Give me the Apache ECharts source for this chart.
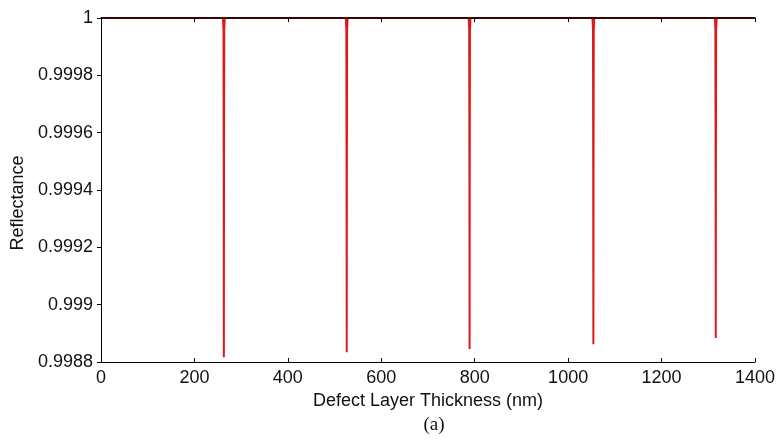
<!DOCTYPE html>
<html>
<head>
<meta charset="utf-8">
<script src="https://cdn.jsdelivr.net/npm/echarts@6/dist/echarts.min.js"></script>
<style>
html,body{margin:0;padding:0;background:#fff;}
#c{width:781px;height:442px;}
</style>
</head>
<body>
<div id="c"></div>
<script>
// Dip centres (nm) and minimum reflectance
const dipCenters = [263, 526, 789, 1054, 1316];
const dipMinima = [0.998817, 0.998834, 0.998845, 0.998862, 0.998884];
const dipShoulder = [0.99944, 0.99944, 0.99945, 0.99946, 0.99947];
const dipNear = [0.99996, 0.99996, 0.99996, 0.99996, 0.99996];
const xTicks = [0, 200, 400, 600, 800, 1000, 1200, 1400];
const yTicks = [0.9988, 0.999, 0.9992, 0.9994, 0.9996, 0.9998, 1];

const data = [[0, 1]];
dipCenters.forEach((c, i) => {
  data.push([c - 2, 1]);
  data.push([c - 0.8, dipNear[i]]);
  data.push([c - 0.3, dipShoulder[i]]);
  data.push([c, dipMinima[i]]);
  data.push([c + 0.3, dipShoulder[i]]);
  data.push([c + 0.8, dipNear[i]]);
  data.push([c + 2, 1]);
});
data.push([1400, 1]);

const font = 'Liberation Sans, Arial, sans-serif';
const chart = echarts.init(document.getElementById('c'));
chart.setOption({
  animation: false,
  grid: {left: 101, right: 26, top: 18, bottom: 80, containLabel: false},
  xAxis: [{
    type: 'value', min: xTicks[0], max: xTicks[xTicks.length - 1], interval: 200, position: 'bottom', z: 5,
    axisLine: {show: true, lineStyle: {color: '#000', width: 1}},
    axisTick: {show: true, inside: true, length: 4, lineStyle: {color: '#000'}},
    axisLabel: {color: '#111', fontSize: 18, fontFamily: font, margin: 7,
      formatter: v => String(v)},
    splitLine: {show: false},
    name: 'Defect Layer Thickness (nm)', nameLocation: 'middle', nameGap: 24,
    nameTextStyle: {color: '#111', fontSize: 18, fontFamily: font}
  }, {
    type: 'value', min: 0, max: 1400, interval: 200, position: 'top', z: 5,
    axisLine: {show: true, lineStyle: {color: '#000', width: 1.5}},
    axisTick: {show: true, inside: true, length: 4, lineStyle: {color: '#000'}},
    axisLabel: {show: false}, splitLine: {show: false}
  }],
  yAxis: [{
    type: 'value', min: yTicks[0], max: yTicks[yTicks.length - 1], interval: 0.0002, position: 'left', z: 5,
    axisLine: {show: true, lineStyle: {color: '#000', width: 1}},
    axisTick: {show: true, inside: false, length: 4, lineStyle: {color: '#000'}},
    axisLabel: {color: '#111', fontSize: 18, fontFamily: font, margin: 8,
      formatter: v => String(+v.toFixed(4))},
    splitLine: {show: false}
  }, {
    type: 'value', min: 0.9988, max: 1, interval: 0.0002, position: 'right', z: 5,
    axisLine: {show: true, lineStyle: {color: '#000', width: 1}},
    axisTick: {show: true, inside: true, length: 4, lineStyle: {color: '#000'}},
    axisLabel: {show: false}, splitLine: {show: false}
  }],
  graphic: [{
    type: 'text', x: 18, y: 203, rotation: Math.PI / 2,
    style: {text: 'Reflectance', fontSize: 18, fontFamily: font, fill: '#111',
      align: 'center', verticalAlign: 'middle'}
  }, {
    type: 'text', x: 434, y: 425,
    style: {text: '(a)', fontSize: 19, fontFamily: 'Liberation Serif, Times New Roman, serif', fill: '#111',
      align: 'center', verticalAlign: 'middle'}
  }],
  series: [{
    type: 'line', data: data, xAxisIndex: 0, yAxisIndex: 0, z: 1,
    showSymbol: false, symbol: 'none', clip: true,
    lineStyle: {color: '#e01818', width: 2}
  }]
});
</script>
</body>
</html>
